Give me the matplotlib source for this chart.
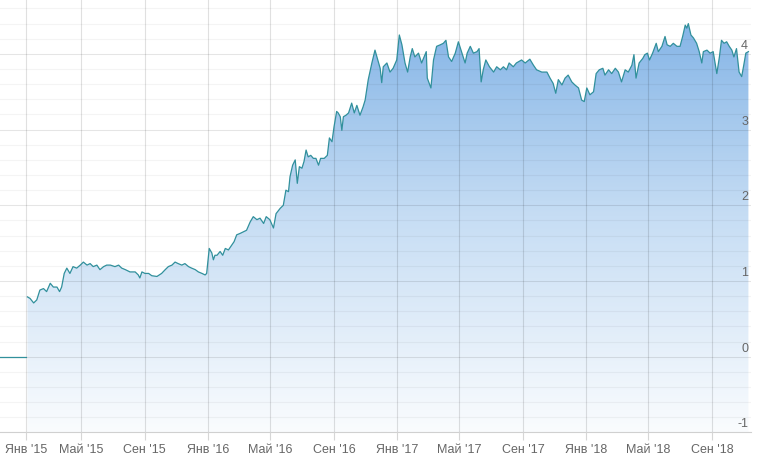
import numpy as np
import pandas as pd
import matplotlib
matplotlib.use("Agg")
import matplotlib.pyplot as plt
import matplotlib.dates as mdates
from matplotlib.colors import LinearSegmentedColormap

plt.rcParams['font.family'] = ['Liberation Sans', 'DejaVu Sans']

# flat zero before the series starts
flat_dates = ["2014-11-26", "2015-01-16"]
flat_vals = [0.0, 0.0]

dates_2015 = ["2015-01-18", "2015-01-23", "2015-01-30", "2015-02-05", "2015-02-11", "2015-02-18", "2015-02-24",
              "2015-03-03", "2015-03-09", "2015-03-16", "2015-03-21", "2015-03-25", "2015-03-30", "2015-04-04",
              "2015-04-10", "2015-04-16", "2015-04-23", "2015-04-30", "2015-05-06", "2015-05-13", "2015-05-19",
              "2015-05-25", "2015-06-01", "2015-06-07", "2015-06-14", "2015-06-20", "2015-06-27", "2015-07-06",
              "2015-07-13", "2015-07-19", "2015-07-26", "2015-08-04", "2015-08-14", "2015-08-20", "2015-08-23",
              "2015-08-27", "2015-09-02", "2015-09-09", "2015-09-15", "2015-09-25", "2015-10-04", "2015-10-11",
              "2015-10-17", "2015-10-24", "2015-10-30", "2015-11-05", "2015-11-12", "2015-11-18", "2015-11-25",
              "2015-12-01", "2015-12-08", "2015-12-14", "2015-12-21", "2015-12-27", "2015-12-30"]
vals_2015 = [0.79, 0.77, 0.71, 0.75, 0.88, 0.90, 0.86,
             0.97, 0.92, 0.92, 0.86, 0.92, 1.10, 1.17,
             1.10, 1.19, 1.17, 1.21, 1.25, 1.21, 1.23,
             1.19, 1.21, 1.15, 1.19, 1.21, 1.21, 1.19,
             1.21, 1.17, 1.15, 1.12, 1.12, 1.08, 1.04,
             1.12, 1.10, 1.10, 1.07, 1.06, 1.10, 1.15,
             1.19, 1.21, 1.25, 1.23, 1.21, 1.23, 1.19,
             1.17, 1.15, 1.12, 1.10, 1.08, 1.10]

dates_2016 = ["2016-01-04", "2016-01-09", "2016-01-12", "2016-01-15", "2016-01-19", "2016-01-25", "2016-01-30",
              "2016-02-04", "2016-02-10", "2016-02-17", "2016-02-21", "2016-02-26", "2016-03-04", "2016-03-10",
              "2016-03-16", "2016-03-23", "2016-03-29", "2016-04-05", "2016-04-11", "2016-04-18", "2016-04-23",
              "2016-04-30", "2016-05-07", "2016-05-12", "2016-05-20", "2016-05-26", "2016-05-31", "2016-06-05",
              "2016-06-08", "2016-06-13", "2016-06-18", "2016-06-22", "2016-06-26", "2016-07-01", "2016-07-05",
              "2016-07-09", "2016-07-13", "2016-07-18", "2016-07-23", "2016-07-28", "2016-08-02", "2016-08-06",
              "2016-08-13", "2016-08-19", "2016-08-23", "2016-08-28", "2016-09-01", "2016-09-06", "2016-09-09",
              "2016-09-13", "2016-09-16", "2016-09-19", "2016-09-24", "2016-09-29", "2016-10-05", "2016-10-10",
              "2016-10-15", "2016-10-21", "2016-10-27", "2016-10-31", "2016-11-06", "2016-11-13", "2016-11-19",
              "2016-11-26", "2016-11-29", "2016-12-02", "2016-12-05", "2016-12-12", "2016-12-18", "2016-12-24",
              "2016-12-31"]
vals_2016 = [1.43, 1.37, 1.28, 1.34, 1.34, 1.39, 1.34,
             1.43, 1.41, 1.48, 1.52, 1.61, 1.63, 1.65,
             1.67, 1.78, 1.85, 1.81, 1.83, 1.76, 1.85,
             1.81, 1.70, 1.89, 1.96, 2.00, 2.20, 2.18,
             2.38, 2.53, 2.60, 2.29, 2.51, 2.49, 2.58,
             2.73, 2.64, 2.66, 2.62, 2.62, 2.53, 2.62,
             2.62, 2.66, 2.89, 2.84, 3.04, 3.24, 3.22,
             3.17, 2.99, 3.17, 3.19, 3.22, 3.35, 3.22,
             3.32, 3.19, 3.30, 3.39, 3.66, 3.88, 4.05,
             3.88, 3.81, 3.62, 3.83, 3.88, 3.76, 3.81,
             3.92]

dates_2017 = ["2017-01-05", "2017-01-10", "2017-01-16", "2017-01-21", "2017-01-26", "2017-01-30", "2017-02-04",
              "2017-02-11", "2017-02-17", "2017-02-26", "2017-02-28", "2017-03-07", "2017-03-12", "2017-03-18",
              "2017-03-25", "2017-03-31", "2017-04-05", "2017-04-10", "2017-04-16", "2017-04-23", "2017-04-29",
              "2017-05-06", "2017-05-12", "2017-05-16", "2017-05-22", "2017-05-28", "2017-06-04", "2017-06-08",
              "2017-06-12", "2017-06-16", "2017-06-21", "2017-06-28", "2017-07-06", "2017-07-12", "2017-07-19",
              "2017-07-25", "2017-07-31", "2017-08-05", "2017-08-13", "2017-08-19", "2017-08-29", "2017-09-05",
              "2017-09-14", "2017-09-21", "2017-09-27", "2017-10-07", "2017-10-17", "2017-10-23", "2017-10-29",
              "2017-11-03", "2017-11-08", "2017-11-15", "2017-11-21", "2017-11-27", "2017-12-04", "2017-12-10",
              "2017-12-17", "2017-12-23", "2017-12-28"]
vals_2017 = [4.25, 4.12, 3.88, 3.76, 3.96, 4.07, 3.96,
             4.01, 3.88, 4.03, 3.68, 3.55, 3.92, 4.10,
             4.12, 4.14, 4.18, 3.96, 3.90, 4.01, 4.16,
             4.01, 3.88, 4.01, 4.10, 4.01, 4.03, 4.07,
             3.63, 3.79, 3.92, 3.83, 3.76, 3.83, 3.79,
             3.83, 3.79, 3.88, 3.83, 3.88, 3.92, 3.88,
             3.93, 3.85, 3.79, 3.76, 3.76, 3.68, 3.61,
             3.48, 3.66, 3.59, 3.68, 3.72, 3.63, 3.59,
             3.55, 3.39, 3.37]

dates_2018 = ["2018-01-02", "2018-01-08", "2018-01-15", "2018-01-20", "2018-01-26", "2018-02-02", "2018-02-06",
              "2018-02-13", "2018-02-19", "2018-02-26", "2018-03-04", "2018-03-10", "2018-03-17", "2018-03-23",
              "2018-03-30", "2018-04-03", "2018-04-07", "2018-04-13", "2018-04-20", "2018-04-24", "2018-04-29",
              "2018-05-03", "2018-05-09", "2018-05-16", "2018-05-20", "2018-05-27", "2018-06-02", "2018-06-06",
              "2018-06-12", "2018-06-18", "2018-06-25", "2018-07-01", "2018-07-06", "2018-07-11", "2018-07-14",
              "2018-07-17", "2018-07-22", "2018-07-27", "2018-08-02", "2018-08-07", "2018-08-12", "2018-08-15",
              "2018-08-22", "2018-08-28", "2018-09-03", "2018-09-10", "2018-09-15", "2018-09-19", "2018-09-24",
              "2018-09-29", "2018-10-04", "2018-10-09", "2018-10-13", "2018-10-18", "2018-10-23", "2018-10-28",
              "2018-11-01", "2018-11-05", "2018-11-10"]
vals_2018 = [3.55, 3.46, 3.50, 3.74, 3.79, 3.81, 3.72,
             3.79, 3.74, 3.81, 3.76, 3.63, 3.79, 3.76,
             3.85, 3.99, 3.68, 3.88, 3.94, 3.99, 4.01,
             3.92, 4.01, 4.14, 4.03, 4.10, 4.23, 4.12,
             4.10, 4.14, 4.10, 4.10, 4.23, 4.38, 4.34,
             4.40, 4.25, 4.21, 4.14, 4.03, 3.88, 4.03,
             4.05, 4.01, 4.03, 3.74, 3.96, 4.18, 4.14,
             4.16, 4.10, 4.05, 3.96, 4.07, 3.76, 3.70,
             3.85, 4.01, 4.03]

tick_dates = ["2015-01-16", "2015-05-01", "2015-09-01", "2016-01-01", "2016-05-01", "2016-09-01",
              "2017-01-01", "2017-05-01", "2017-09-01", "2018-01-01", "2018-05-01", "2018-09-01"]
tick_labels = ["Янв '15", "Май '15", "Сен '15", "Янв '16", "Май '16", "Сен '16",
               "Янв '17", "Май '17", "Сен '17", "Янв '18", "Май '18", "Сен '18"]
y_labels = [-1, 0, 1, 2, 3, 4]

x_start, x_end = "2014-11-26", "2018-11-15"
y_min, y_max = -1.0, 4.712

# build series
dates = pd.to_datetime(dates_2015 + dates_2016 + dates_2017 + dates_2018)
vals = np.array(vals_2015 + vals_2016 + vals_2017 + vals_2018)
x = mdates.date2num(dates)
xf = mdates.date2num(pd.to_datetime(flat_dates))
x0 = mdates.date2num(pd.Timestamp(x_start))
x1 = mdates.date2num(pd.Timestamp(x_end))

line_color = '#31909c'

fig = plt.figure(figsize=(7.59, 4.61), dpi=100)
ax = fig.add_axes([0, 28.6 / 461, 751 / 759, 432.4 / 461])
ax.set_xlim(x0, x1)
ax.set_ylim(y_min, y_max)

# gradient fill under the curve
cmap = LinearSegmentedColormap.from_list('fillgrad', ['#fafcfe', '#c6ddf4', '#7db0e5'])
grad = np.linspace(0, 1, 256).reshape(-1, 1)
im = ax.imshow(grad, extent=[x0, x1, y_min, y_max], origin='lower', aspect='auto',
               cmap=cmap, zorder=1)
poly = ax.fill_between(x, vals, y_min, color='none', lw=0)
im.set_clip_path(poly.get_paths()[0], transform=ax.transData)

ax.plot(xf, flat_vals, color=line_color, lw=0.9, zorder=3)
ax.plot(x, vals, color=line_color, lw=0.9, zorder=3)

# grid
ax.set_axisbelow(False)
ax.set_yticks(y_labels)
ax.set_yticks(np.arange(-1, 4.75, 0.2), minor=True)
ax.set_yticklabels([])
ax.tick_params(axis='y', which='both', length=0)
ax.grid(axis='y', which='major', color='black', alpha=0.10, lw=0.8)
ax.grid(axis='y', which='minor', color='black', alpha=0.045, lw=0.8)

ax.set_xticks(mdates.date2num(pd.to_datetime(tick_dates)))
ax.set_xticklabels(tick_labels)
ax.grid(axis='x', color='black', alpha=0.12, lw=0.8)
ax.tick_params(axis='x', direction='out', length=6, width=0.8, color='#d6d6d6',
               labelcolor='#666666', labelsize=9, pad=2)

for s in ['top', 'left', 'right']:
    ax.spines[s].set_visible(False)
ax.spines['bottom'].set_color('#d0d0d0')
ax.spines['bottom'].set_linewidth(0.8)

for v in y_labels:
    ax.annotate(str(v), xy=(1, v), xycoords=('axes fraction', 'data'),
                xytext=(-3, 2), textcoords='offset pixels',
                ha='right', va='bottom', color='#666666', fontsize=9, zorder=4)

fig.savefig('out.png', dpi=100)
